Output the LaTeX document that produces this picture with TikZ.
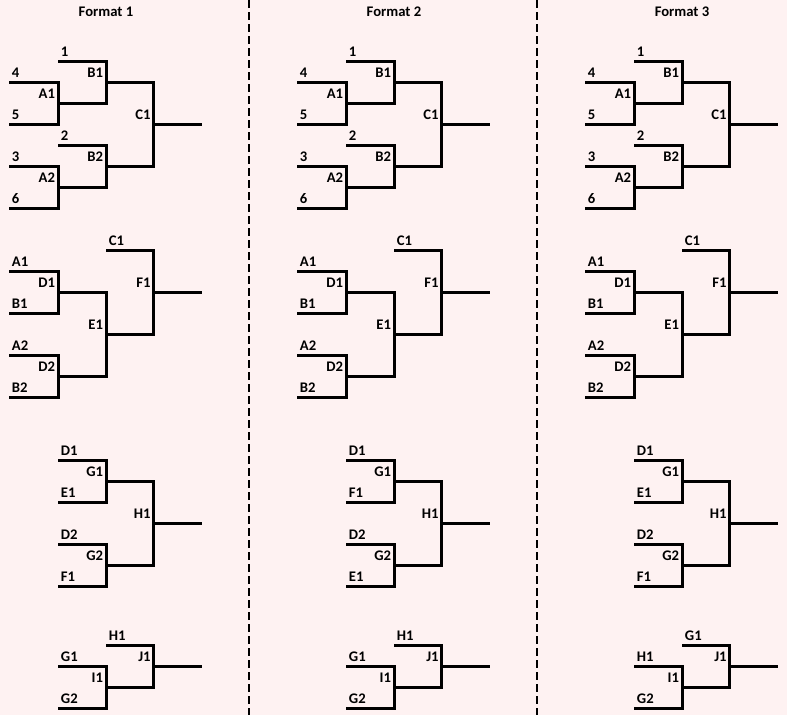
\documentclass[tikz,border=0pt]{standalone}
\usepackage{fontspec}
\setmainfont{Carlito}
\definecolor{bgpink}{HTML}{FEF2F2}
\tikzset{
  wire/.style={line width=2.25pt, line join=miter},
  sep/.style={line width=1.6pt, dash pattern=on 6pt off 3pt},
  elab/.style={anchor=base west, inner sep=0pt, xshift=2pt, yshift=3.75pt, font=\bfseries\fontsize{11pt}{13pt}\selectfont},
  mlab/.style={anchor=base east, inner sep=0pt, xshift=-2pt, yshift=3.75pt, font=\bfseries\fontsize{11pt}{13pt}\selectfont},
  head/.style={anchor=base, inner sep=0pt, font=\bfseries\fontsize{11pt}{13pt}\selectfont}
}
\newcommand\mkmatch[7]{% id, xt, xb, xv, yt, yb, label
  \coordinate (#1-t) at (#2,#5);
  \coordinate (#1-tv) at (#4,#5);
  \coordinate (#1-bv) at (#4,#6);
  \coordinate (#1-b) at (#3,#6);
  \coordinate (#1) at (#4,{(#5+#6)/2});
  \draw[wire] (#1-t) -- (#1-tv) -- (#1-bv) -- (#1-b);
  \node[mlab] (#1-lab) at (#1) {#7};
}
\newcommand\mkentry[3]{\node[elab] (#1) at (#2) {#3};}
\def\colA{9}\def\colB{58}\def\colC{106}\def\colD{153.5}\def\colE{202}
\begin{document}
\begin{tikzpicture}[x=0.75pt,y=-0.75pt]
\fill[bgpink] (0,0) rectangle (787,715);
\useasboundingbox (0,0) rectangle (787,715);
\coordinate (s1t) at (249,0); \coordinate (s1b) at (249,715);
\coordinate (s2t) at (537,0); \coordinate (s2b) at (537,715);
\draw[sep] (s1t) -- (s1b);
\draw[sep] (s2t) -- (s2b);
\foreach \ox/\fn/\ga/\gb/\ja/\ia in {0/1/E1/F1/H1/G1, 288/2/F1/E1/H1/G1, 576/3/E1/F1/G1/H1}{
\begin{scope}[shift={(\ox,0)}]
  \node[head] (hd-\fn) at (106,16) {Format \fn};
  % section 1
  \mkmatch{A1-\fn}{\colA}{\colA}{\colB}{82}{124}{A1}
  \mkentry{e4-\fn}{A1-\fn-t}{4}
  \mkentry{e5-\fn}{A1-\fn-b}{5}
  \mkmatch{B1-\fn}{\colB}{\colB}{\colC}{61}{103}{B1}
  \mkentry{e1-\fn}{B1-\fn-t}{1}
  \mkmatch{A2-\fn}{\colA}{\colA}{\colB}{166}{208}{A2}
  \mkentry{e3-\fn}{A2-\fn-t}{3}
  \mkentry{e6-\fn}{A2-\fn-b}{6}
  \mkmatch{B2-\fn}{\colB}{\colB}{\colC}{145}{187}{B2}
  \mkentry{e2-\fn}{B2-\fn-t}{2}
  \mkmatch{C1-\fn}{\colC}{\colC}{\colD}{82}{166}{C1}
  \coordinate (C1-\fn-o) at (\colE,124);
  \draw[wire] (C1-\fn) -- (C1-\fn-o);
  % section 2
  \mkmatch{D1-\fn}{\colA}{\colA}{\colB}{271}{313}{D1}
  \mkentry{eA1-\fn}{D1-\fn-t}{A1}
  \mkentry{eB1-\fn}{D1-\fn-b}{B1}
  \mkmatch{D2-\fn}{\colA}{\colA}{\colB}{355}{397}{D2}
  \mkentry{eA2-\fn}{D2-\fn-t}{A2}
  \mkentry{eB2-\fn}{D2-\fn-b}{B2}
  \mkmatch{E1-\fn}{\colB}{\colB}{\colC}{292}{376}{E1}
  \mkmatch{F1-\fn}{\colC}{\colC}{\colD}{250}{334}{F1}
  \mkentry{eC1-\fn}{F1-\fn-t}{C1}
  \coordinate (F1-\fn-o) at (\colE,292);
  \draw[wire] (F1-\fn) -- (F1-\fn-o);
  % section 3
  \mkmatch{G1-\fn}{\colB}{\colB}{\colC}{460}{502}{G1}
  \mkentry{eD1-\fn}{G1-\fn-t}{D1}
  \mkentry{eGa-\fn}{G1-\fn-b}{\ga}
  \mkmatch{G2-\fn}{\colB}{\colB}{\colC}{544}{586}{G2}
  \mkentry{eD2-\fn}{G2-\fn-t}{D2}
  \mkentry{eGb-\fn}{G2-\fn-b}{\gb}
  \mkmatch{H1-\fn}{\colC}{\colC}{\colD}{481}{565}{H1}
  \coordinate (H1-\fn-o) at (\colE,523);
  \draw[wire] (H1-\fn) -- (H1-\fn-o);
  % section 4
  \mkmatch{I1-\fn}{\colB}{\colB}{\colC}{666}{708}{I1}
  \mkentry{eIa-\fn}{I1-\fn-t}{\ia}
  \mkentry{eG2-\fn}{I1-\fn-b}{G2}
  \mkmatch{J1-\fn}{\colC}{\colC}{\colD}{645}{687}{J1}
  \mkentry{eJa-\fn}{J1-\fn-t}{\ja}
  \coordinate (J1-\fn-o) at (\colE,666);
  \draw[wire] (J1-\fn) -- (J1-\fn-o);
\end{scope}
}
\end{tikzpicture}
\end{document}
